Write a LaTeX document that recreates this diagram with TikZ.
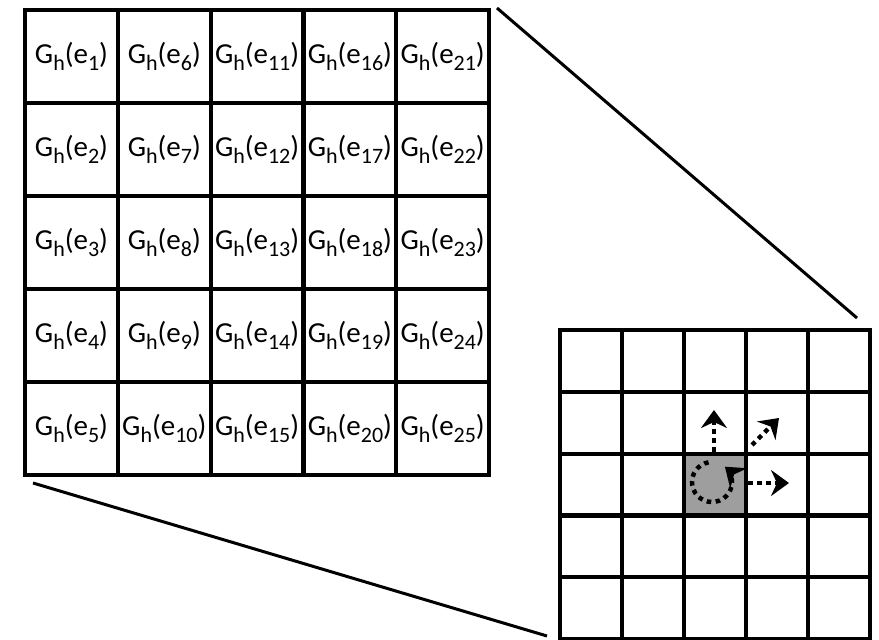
\documentclass[tikz,border=0pt]{standalone}
\usepackage{fontspec}
\setmainfont{Carlito}
\usetikzlibrary{arrows.meta}
\newcommand\mysub[1]{\raisebox{-7.5pt}{\fontsize{22}{24}\selectfont #1}}
\begin{document}
\begin{tikzpicture}[x=1pt,y=-1pt,
  cellL/.style={draw=black, line width=4.2pt, minimum width=92.8pt, minimum height=93pt,
    inner sep=0pt, anchor=north west, font=\fontsize{29}{32}\selectfont},
  cellR/.style={draw=black, line width=4.2pt, minimum width=62pt, minimum height=61.8pt,
    inner sep=0pt, anchor=north west},
  zoomline/.style={line width=3pt, black},
  dotarrow/.style={line width=4.5pt, dash pattern=on 4.5pt off 4.5pt,
    -{Stealth[length=18pt 0 0, width=26pt 0 0, inset=6pt 0]}},
  graycell/.style={fill={rgb,255:red,158;green,158;blue,158}}
]
\useasboundingbox (0,0) rectangle (879,640);
% left grid
\foreach \c in {0,...,4} {
  \foreach \r in {0,...,4} {
    \pgfmathtruncatemacro\k{5*\c+\r+1}
    \node[cellL] (L-\r-\c) at ({23+92.8*\c},{8+93*\r}) {\raisebox{3pt}{G\mysub{h}(e\mysub{\k})}};
  }
}
% right grid
\foreach \c in {0,...,4} {
  \foreach \r in {0,...,4} {
    \node[cellR] (R-\r-\c) at ({558+62*\c},{328+61.8*\r}) {};
  }
}
\node[cellR, graycell] (G) at ({558+62*2},{328+61.8*2}) {};
% zoom lines
\coordinate (z1) at (497,8);
\coordinate (z2) at (857,318);
\coordinate (z3) at (33,483);
\coordinate (z4) at (547,636);
\draw[zoomline] (z1) -- (z2);
\draw[zoomline] (z3) -- (z4);
% arrows
\coordinate (c0) at (712,482);
\coordinate (aUp) at (714,410);
\coordinate (aDs) at (752,445);
\coordinate (aDe) at (779,418);
\coordinate (aRt) at (789,483);
\draw[dotarrow] (G.north -| aUp) -- (aUp);
\draw[dotarrow] (aDs) -- (aDe);
\draw[dotarrow] (G.east |- aRt) -- (aRt);
\draw[dotarrow] (c0) ++({20*cos(-100)},{20*sin(-100)}) arc[start angle=-100, end angle=-410, radius=20];
\end{tikzpicture}
\end{document}
